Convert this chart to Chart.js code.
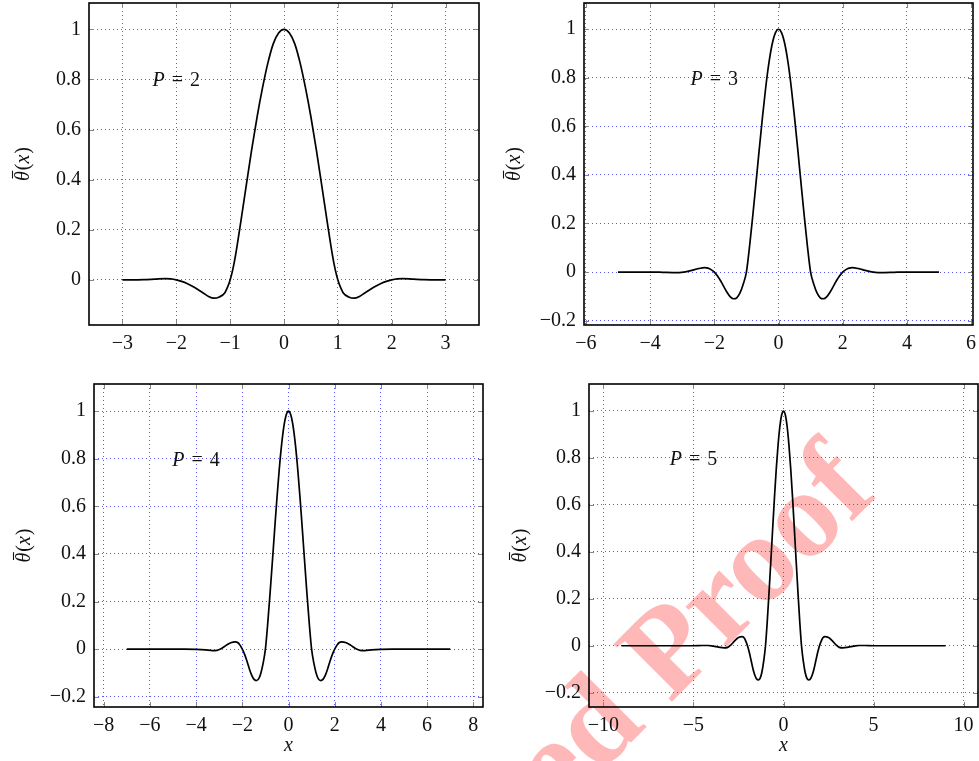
<!DOCTYPE html>
<html>
<head>
<meta charset="utf-8">
<script src="https://cdn.jsdelivr.net/npm/chart.js@4.4.1/dist/chart.umd.min.js"></script>
<style>
  html, body { margin: 0; padding: 0; background: #fff; }
  body { width: 979px; height: 761px; position: relative; overflow: hidden; }
  .panel { position: absolute; z-index: 1; }
  #sello { position: absolute; left: 880px; top: 495px; width: 0; height: 0; transform: rotate(-45deg); z-index: 0; }
  #sello span { position: absolute; right: 0; bottom: -0.16em; line-height: 1; white-space: nowrap;
    font-family: 'Liberation Serif', serif; font-weight: bold; font-size: 125px; color: rgba(255, 0, 0, 0.28); }
</style>
</head>
<body>
<div id="sello"><span>Uncorrected Proof</span></div>
<div class="panel" style="left:0;top:0;width:489px;height:380px"><canvas id="graf2"></canvas></div>
<div class="panel" style="left:489px;top:0;width:490px;height:380px"><canvas id="graf3"></canvas></div>
<div class="panel" style="left:0;top:380px;width:489px;height:381px"><canvas id="graf4"></canvas></div>
<div class="panel" style="left:489px;top:380px;width:490px;height:381px"><canvas id="graf5"></canvas></div>
<script>
// P = 2
const x2 = [-3, -2.8, -2.6, -2.4, -2.2, -2.1, -2, -1.9, -1.8, -1.7, -1.6, -1.5, -1.4, -1.3, -1.2, -1.1, -1.05, -1, -0.95, -0.9, -0.8, -0.7, -0.6, -0.5, -0.4, -0.3, -0.2, -0.1, 0, 0.1, 0.2, 0.3, 0.4, 0.5, 0.6, 0.7, 0.8, 0.9, 0.95, 1, 1.05, 1.1, 1.2, 1.3, 1.4, 1.5, 1.6, 1.7, 1.8, 1.9, 2, 2.1, 2.2, 2.4, 2.6, 2.8, 3];
const th2 = [0, 0, 0.001, 0.003, 0.005, 0.004, 0, -0.006, -0.014, -0.025, -0.038, -0.052, -0.066, -0.073, -0.068, -0.052, -0.03, 0, 0.042, 0.098, 0.235, 0.378, 0.52, 0.65, 0.765, 0.865, 0.942, 0.985, 1, 0.985, 0.942, 0.865, 0.765, 0.65, 0.52, 0.378, 0.235, 0.098, 0.042, 0, -0.03, -0.052, -0.068, -0.073, -0.066, -0.052, -0.038, -0.025, -0.014, -0.006, 0, 0.004, 0.005, 0.003, 0.001, 0, 0];

// P = 3
const x3 = [-5, -4.5, -4, -3.6, -3.3, -3.1, -2.9, -2.7, -2.5, -2.3, -2.2, -2.1, -2, -1.9, -1.8, -1.7, -1.6, -1.5, -1.4, -1.3, -1.2, -1.1, -1, -0.9, -0.8, -0.7, -0.6, -0.5, -0.4, -0.3, -0.2, -0.1, 0, 0.1, 0.2, 0.3, 0.4, 0.5, 0.6, 0.7, 0.8, 0.9, 1, 1.1, 1.2, 1.3, 1.4, 1.5, 1.6, 1.7, 1.8, 1.9, 2, 2.1, 2.2, 2.3, 2.5, 2.7, 2.9, 3.1, 3.3, 3.6, 4, 4.5, 5];
const th3 = [0, 0, 0, -0.001, -0.002, -0.002, 0.001, 0.007, 0.014, 0.018, 0.016, 0.01, 0, -0.016, -0.037, -0.061, -0.084, -0.102, -0.11, -0.106, -0.086, -0.05, 0, 0.108, 0.234, 0.368, 0.505, 0.637, 0.758, 0.86, 0.937, 0.984, 1, 0.984, 0.937, 0.86, 0.758, 0.637, 0.505, 0.368, 0.234, 0.108, 0, -0.05, -0.086, -0.106, -0.11, -0.102, -0.084, -0.061, -0.037, -0.016, 0, 0.01, 0.016, 0.018, 0.014, 0.007, 0.001, -0.002, -0.002, -0.001, 0, 0, 0];

// P = 4
const x4 = [-7, -6, -5, -4.5, -4, -3.6, -3.3, -3.1, -2.9, -2.7, -2.5, -2.3, -2.2, -2.1, -2, -1.9, -1.8, -1.7, -1.6, -1.5, -1.4, -1.3, -1.2, -1.1, -1, -0.9, -0.8, -0.7, -0.6, -0.5, -0.4, -0.3, -0.2, -0.1, 0, 0.1, 0.2, 0.3, 0.4, 0.5, 0.6, 0.7, 0.8, 0.9, 1, 1.1, 1.2, 1.3, 1.4, 1.5, 1.6, 1.7, 1.8, 1.9, 2, 2.1, 2.2, 2.3, 2.5, 2.7, 2.9, 3.1, 3.3, 3.6, 4, 4.5, 5, 6, 7];
const th4 = [0, 0, 0, 0, -0.001, -0.003, -0.006, -0.005, 0.003, 0.016, 0.027, 0.031, 0.028, 0.017, 0, -0.022, -0.05, -0.081, -0.108, -0.126, -0.132, -0.126, -0.102, -0.06, 0, 0.107, 0.232, 0.365, 0.502, 0.635, 0.756, 0.858, 0.936, 0.984, 1, 0.984, 0.936, 0.858, 0.756, 0.635, 0.502, 0.365, 0.232, 0.107, 0, -0.06, -0.102, -0.126, -0.132, -0.126, -0.108, -0.081, -0.05, -0.022, 0, 0.017, 0.028, 0.031, 0.027, 0.016, 0.003, -0.005, -0.006, -0.003, -0.001, 0, 0, 0, 0];

// P = 5
const x5 = [-9, -8, -7, -6, -5, -4.5, -4.2, -3.9, -3.6, -3.3, -3.1, -2.9, -2.7, -2.5, -2.3, -2.2, -2.1, -2, -1.9, -1.8, -1.7, -1.6, -1.5, -1.4, -1.3, -1.2, -1.1, -1, -0.9, -0.8, -0.7, -0.6, -0.5, -0.4, -0.3, -0.2, -0.1, 0, 0.1, 0.2, 0.3, 0.4, 0.5, 0.6, 0.7, 0.8, 0.9, 1, 1.1, 1.2, 1.3, 1.4, 1.5, 1.6, 1.7, 1.8, 1.9, 2, 2.1, 2.2, 2.3, 2.5, 2.7, 2.9, 3.1, 3.3, 3.6, 3.9, 4.2, 4.5, 5, 6, 7, 8, 9];
const th5 = [0, 0, 0, 0, 0, 0.001, 0.001, -0.002, -0.006, -0.009, -0.007, 0.005, 0.022, 0.035, 0.039, 0.035, 0.021, 0, -0.028, -0.062, -0.097, -0.124, -0.141, -0.146, -0.139, -0.113, -0.066, 0, 0.106, 0.231, 0.364, 0.501, 0.634, 0.755, 0.857, 0.935, 0.984, 1, 0.984, 0.935, 0.857, 0.755, 0.634, 0.501, 0.364, 0.231, 0.106, 0, -0.066, -0.113, -0.139, -0.146, -0.141, -0.124, -0.097, -0.062, -0.028, 0, 0.021, 0.035, 0.039, 0.035, 0.022, 0.005, -0.007, -0.009, -0.006, -0.002, 0.001, 0.001, 0, 0, 0, 0, 0];

// marcas de los ejes
const ticksX2 = [-3, -2, -1, 0, 1, 2, 3];
const ticksX3 = [-6, -4, -2, 0, 2, 4, 6];
const ticksX4 = [-8, -6, -4, -2, 0, 2, 4, 6, 8];
const ticksX5 = [-10, -5, 0, 5, 10];
const ticksY2 = [0, 0.2, 0.4, 0.6, 0.8, 1];
const ticksY = [-0.2, 0, 0.2, 0.4, 0.6, 0.8, 1];

// etiquetas P = n
const etiquetas = ["2", "3", "4", "5"];
const posEtiqueta = [[-2, 0.8], [-2, 0.8], [-4, 0.8], [-5, 0.8]];

const fuente = "'Liberation Serif', 'DejaVu Serif', serif";
const negro = '#111';
const rejilla = 'rgba(60, 60, 255, 0.85)';

const puntos = (xs, ys) => xs.map((x, i) => ({ x: x, y: ys[i] }));
const conMenos = v => String(Math.round(v * 10) / 10).replace('-', '\u2212');

// escribe trozos de texto seguidos (texto, cursiva) centrados en cx
function trozos(ctx, partes, cx, cy) {
  const anchos = partes.map(p => {
    ctx.font = (p[1] ? 'italic ' : '') + '20px ' + fuente;
    return ctx.measureText(p[0]).width + (p[2] || 0);
  });
  let px = cx - anchos.reduce((a, b) => a + b, 0) / 2;
  const inicio = [];
  partes.forEach((p, i) => {
    ctx.font = (p[1] ? 'italic ' : '') + '20px ' + fuente;
    inicio.push(px);
    ctx.fillText(p[0], px, cy);
    px += anchos[i];
  });
  return inicio;
}

// marco negro + marcas grises hacia adentro + texto P = n + titulo del eje y
const marco = {
  id: 'marco',
  afterDatasetsDraw(chart, args, opts) {
    const { ctx, chartArea: a, scales: { x, y } } = chart;
    ctx.save();
    ctx.strokeStyle = '#888';
    ctx.lineWidth = 1;
    ctx.beginPath();
    x.ticks.forEach(t => {
      const px = Math.round(x.getPixelForValue(t.value)) + 0.5;
      ctx.moveTo(px, a.bottom); ctx.lineTo(px, a.bottom - 5);
      ctx.moveTo(px, a.top); ctx.lineTo(px, a.top + 5);
    });
    y.ticks.forEach(t => {
      const py = Math.round(y.getPixelForValue(t.value)) + 0.5;
      ctx.moveTo(a.left, py); ctx.lineTo(a.left + 5, py);
      ctx.moveTo(a.right, py); ctx.lineTo(a.right - 5, py);
    });
    ctx.stroke();
    ctx.strokeStyle = '#000';
    ctx.lineWidth = 1.6;
    ctx.strokeRect(a.left, a.top, a.right - a.left, a.bottom - a.top);

    ctx.fillStyle = negro;
    ctx.textBaseline = 'alphabetic';
    ctx.textAlign = 'left';

    // texto P = n
    const cx = x.getPixelForValue(opts.pos[0]);
    const cy = y.getPixelForValue(opts.pos[1]) + 7;
    trozos(ctx, [['P', true, 7], ['=', false, 7], [opts.texto, false]], cx, cy);

    // titulo del eje y: theta con barra (x)
    ctx.save();
    ctx.translate(opts.tituloX, (a.top + a.bottom) / 2);
    ctx.rotate(-Math.PI / 2);
    const ini = trozos(ctx, [['\u03b8', true, 1], ['(', false], ['x', true, 1], [')', false]], 0, 0);
    ctx.font = 'italic 20px ' + fuente;
    const wT = ctx.measureText('\u03b8').width;
    ctx.strokeStyle = negro;
    ctx.lineWidth = 1.1;
    ctx.beginPath();
    ctx.moveTo(ini[0] + 2.5, -16.5);
    ctx.lineTo(ini[0] + wT + 0.5, -16.5);
    ctx.stroke();
    ctx.restore();

    ctx.restore();
  }
};

function grafico(id, datos, c) {
  return new Chart(document.getElementById(id), {
    type: 'line',
    data: {
      datasets: [{
        data: datos,
        borderColor: '#000',
        borderWidth: 1.7,
        pointRadius: 0,
        fill: false,
        cubicInterpolationMode: 'monotone'
      }]
    },
    options: {
      responsive: true,
      maintainAspectRatio: false,
      animation: false,
      events: [],
      layout: { padding: { left: 0, right: c.padR, top: c.padT, bottom: 0 } },
      plugins: {
        legend: { display: false },
        tooltip: { enabled: false },
        marco: { texto: c.texto, pos: c.pos, tituloX: c.tituloY }
      },
      scales: {
        x: {
          type: 'linear',
          min: c.xmin, max: c.xmax,
          afterBuildTicks: s => { s.ticks = c.xt.map(v => ({ value: v })); },
          afterFit: s => { s.height = c.altoX; s.paddingLeft = 0; s.paddingRight = 0; },
          border: { display: false, dash: [1, 3] },
          grid: { color: rejilla, lineWidth: 1, drawTicks: false },
          ticks: { autoSkip: false, maxRotation: 0, padding: 7, color: negro,
                   font: { family: fuente, size: 20 }, callback: conMenos },
          title: { display: c.tituloX, text: 'x', color: negro,
                   font: { family: fuente, size: 20, style: 'italic' }, padding: { top: 0, bottom: 3 } }
        },
        y: {
          min: c.ymin, max: c.ymax,
          afterBuildTicks: s => { s.ticks = c.yt.map(v => ({ value: v })); },
          afterFit: s => { s.width = c.anchoY; s.paddingTop = 0; s.paddingBottom = 0; },
          border: { display: false, dash: [1, 3] },
          grid: { color: rejilla, lineWidth: 1, drawTicks: false },
          ticks: { padding: 8, color: negro, font: { family: fuente, size: 20 }, callback: conMenos }
        }
      }
    },
    plugins: [marco]
  });
}

const graf2 = grafico('graf2', puntos(x2, th2), {
  xmin: -3.62, xmax: 3.62, ymin: -0.18, ymax: 1.105, xt: ticksX2, yt: ticksY2,
  anchoY: 89, altoX: 55, padR: 10, padT: 3, tituloY: 29, tituloX: false,
  texto: etiquetas[0], pos: posEtiqueta[0]
});
const graf3 = grafico('graf3', puntos(x3, th3), {
  xmin: -6.06, xmax: 6.06, ymin: -0.218, ymax: 1.108, xt: ticksX3, yt: ticksY,
  anchoY: 95, altoX: 55, padR: 6, padT: 3, tituloY: 31, tituloX: false,
  texto: etiquetas[1], pos: posEtiqueta[1]
});
const graf4 = grafico('graf4', puntos(x4, th4), {
  xmin: -8.42, xmax: 8.42, ymin: -0.243, ymax: 1.114, xt: ticksX4, yt: ticksY,
  anchoY: 94, altoX: 54, padR: 6, padT: 4, tituloY: 30, tituloX: true,
  texto: etiquetas[2], pos: posEtiqueta[2]
});
const graf5 = grafico('graf5', puntos(x5, th5), {
  xmin: -10.8, xmax: 10.8, ymin: -0.261, ymax: 1.115, xt: ticksX5, yt: ticksY,
  anchoY: 100, altoX: 54, padR: 1, padT: 4, tituloY: 37, tituloX: true,
  texto: etiquetas[3], pos: posEtiqueta[3]
});
</script>
</body>
</html>
